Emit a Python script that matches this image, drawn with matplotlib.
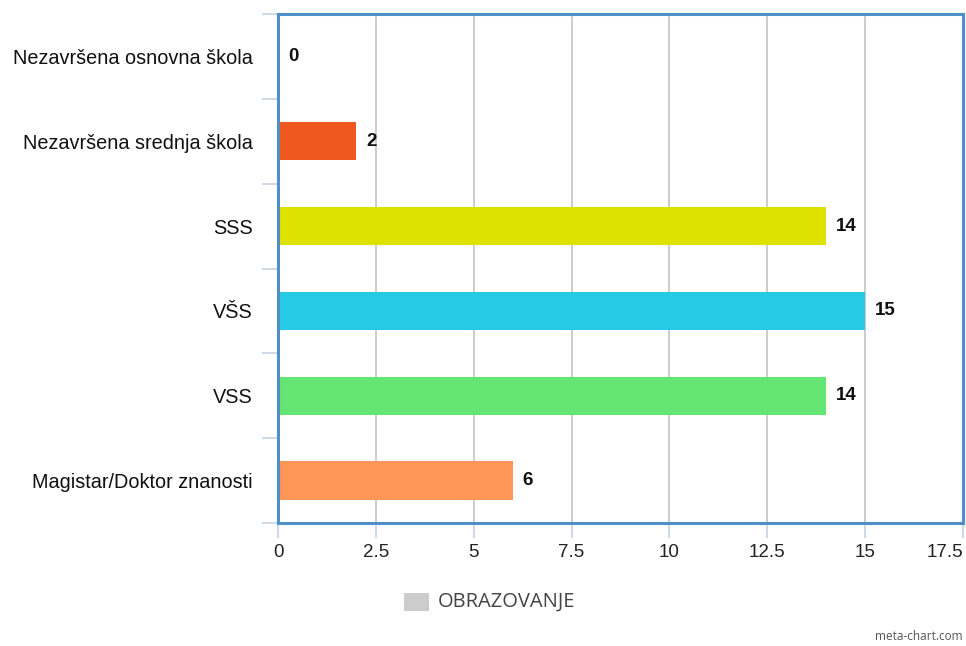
import matplotlib
matplotlib.use("Agg")
import matplotlib.pyplot as plt
from matplotlib.patches import Rectangle
import numpy as np

categories = ["Nezavršena osnovna škola", "Nezavršena srednja škola", "SSS", "VŠS", "VSS",
              "Magistar/Doktor znanosti"]
values = [0, 2, 14, 15, 14, 6]
colors = ["#3b5fc4", "#ef581e", "#dfe100", "#25cbe4", "#64e574", "#fe9657"]
xticks = [0, 2.5, 5, 7.5, 10, 12.5, 15, 17.5]
xtick_labels = ["0", "2.5", "5", "7.5", "10", "12.5", "15", "17.5"]
legend_label = "OBRAZOVANJE"

plt.rcParams['font.family'] = ['Liberation Sans', 'DejaVu Sans']

fig = plt.figure(figsize=(9.66, 6.46), dpi=100)
ax = fig.add_axes([278/966, 1-523/646, 685/966, 509/646])

y = np.arange(len(categories))
ax.barh(y, values, height=0.45, color=colors, zorder=3)
for yi, v in zip(y, values):
    ax.text(v + 0.25, yi, str(v), va='center', ha='left', fontsize=13.5,
            fontweight='bold', color='#111111', zorder=4)

ax.set_xlim(0, 17.5)
ax.set_ylim(len(categories) - 0.5, -0.5)
ax.set_xticks(xticks)
ax.set_xticklabels(xtick_labels, fontsize=13.5, color='#222222')
lbls = ax.get_xticklabels()
lbls[-1].set_horizontalalignment('right')
ax.set_yticks(y)
ax.set_yticklabels(categories, fontsize=14.3, color='#111111')
ax.set_yticks(np.arange(-0.5, len(categories)), minor=True)
ax.tick_params(axis='y', which='major', length=0, pad=18)
ax.tick_params(axis='y', which='minor', length=11.5, width=1.2, color='#c5d3e3', direction='out')
ax.tick_params(axis='x', which='major', length=11, width=1.2, color='#c5d3e3', direction='out', pad=4)

ax.grid(axis='x', color='#c8c8c8', linewidth=1.3, zorder=0)
ax.set_axisbelow(True)
for s in ax.spines.values():
    s.set_color('#4f8fca')
    s.set_linewidth(2.2)
    s.set_zorder(5)

# legend
fig.patches.append(Rectangle((404/966, 1-611/646), 25/966, 18/646, transform=fig.transFigure,
                             facecolor='#cccccc', edgecolor='none'))
fig.text(438/966, 1-602/646, legend_label, fontsize=14.5, color='#444444', va='center', ha='left',
         family=['Open Sans', 'DejaVu Sans'])
fig.text(963/966, 1-637/646, "meta-chart.com", fontsize=8.5, color='#555555', va='center', ha='right',
         family=['Open Sans', 'DejaVu Sans'])

fig.savefig("out.png", dpi=100)
